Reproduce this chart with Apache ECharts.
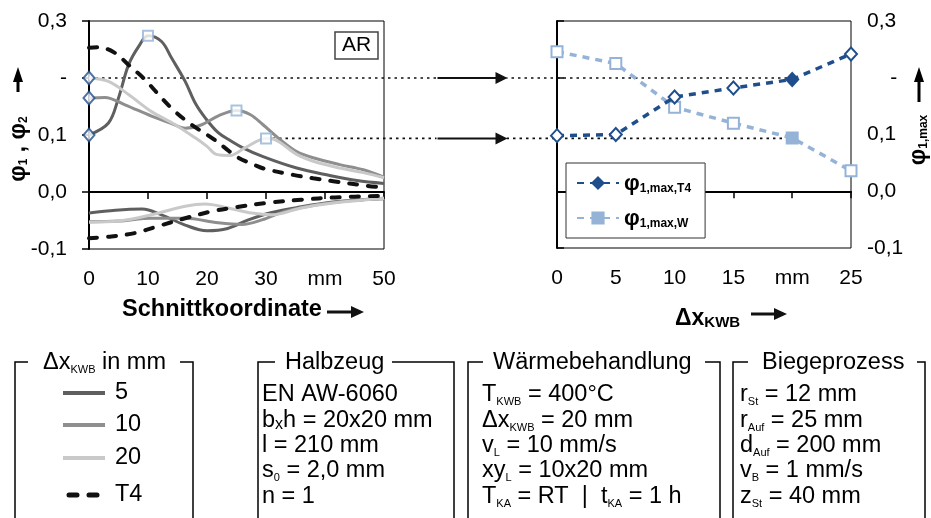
<!DOCTYPE html>
<html>
<head>
<meta charset="utf-8">
<script src="https://cdn.jsdelivr.net/npm/echarts@6/dist/echarts.min.js"></script>
<style>
  html, body { margin: 0; padding: 0; background: #fff; }
  #chart { width: 931px; height: 518px; }
</style>
</head>
<body>
<div id="chart"></div>
<script>
// ---- Verlauf der Dehnungen über der Schnittkoordinate (mm, φ) ----
const phi1_5  = [[0,0.100],[3.3,0.121],[5,0.165],[6.7,0.223],[8.4,0.255],[10,0.274],[12.3,0.264],[14,0.235],[16.3,0.194],[18,0.156],[19.7,0.130],[21.9,0.104],[24,0.090],[26,0.078],[29.5,0.062],[35.2,0.042],[40.8,0.029],[45.4,0.020],[50,0.015]];
const phi1_10 = [[0,0.165],[2.7,0.166],[6.1,0.153],[10.6,0.133],[14,0.120],[16.3,0.112],[19.1,0.118],[22,0.134],[25,0.143],[27.3,0.136],[29.5,0.118],[32.4,0.092],[35.2,0.071],[38,0.060],[42.5,0.048],[46.5,0.039],[50,0.026]];
const phi1_20 = [[0,0.200],[3.3,0.194],[6.7,0.171],[10.6,0.141],[14.6,0.118],[18,0.095],[20,0.080],[21.6,0.066],[23.9,0.064],[26.5,0.078],[30,0.094],[31.5,0.092],[35.2,0.066],[38,0.054],[42.5,0.042],[46.5,0.034],[50,0.025]];
const phi1_T4 = [[0,0.253],[1.6,0.254],[4.4,0.244],[6.7,0.223],[9.5,0.197],[12.3,0.165],[14.6,0.141],[17.4,0.118],[20.8,0.095],[23,0.078],[25,0.062],[28.4,0.046],[30,0.040],[34.6,0.030],[38,0.024],[41.4,0.019],[47,0.011],[50,0.008]];

const phi2_5  = [[0,-0.037],[4.5,-0.032],[9,-0.030],[12.3,-0.040],[16.3,-0.058],[20,-0.068],[23.5,-0.064],[27,-0.049],[31,-0.036],[36,-0.026],[41,-0.018],[46,-0.014],[50,-0.012]];
const phi2_10 = [[0,-0.052],[5,-0.051],[10.6,-0.046],[16.3,-0.046],[21.9,-0.054],[25.9,-0.057],[29.3,-0.049],[33.2,-0.034],[38.9,-0.022],[44.5,-0.015],[50,-0.011]];
const phi2_20 = [[0,-0.053],[5,-0.051],[10.6,-0.040],[16.3,-0.025],[19.7,-0.021],[23.6,-0.028],[27.6,-0.037],[31,-0.040],[36,-0.028],[41.7,-0.019],[50,-0.011]];
const phi2_T4 = [[0,-0.081],[3.8,-0.078],[7.8,-0.072],[11.7,-0.060],[16.3,-0.046],[20.8,-0.034],[24.7,-0.027],[30.4,-0.019],[36,-0.0135],[41.7,-0.0095],[50,-0.0065]];

// Lage der Maxima φ1,max,W je Kurve (Schnittkoordinate in mm)
const maxPosW = [10, 25, 30];

// ---- φ1,max über der Breite der Wärmebehandlungszone ----
const deltaX = [0, 5, 10, 15, 20, 25];
const phiMaxT4 = [0.098, 0.100, 0.166, 0.182, 0.197, 0.242];
const phiMaxW  = [0.246, 0.225, 0.148, 0.120, 0.094, 0.036];

// Achsbeschriftungen
const xTicksLeft  = {0:'0', 10:'10', 20:'20', 30:'30', 40:'mm', 50:'50'};
const xTicksRight = {0:'0', 5:'5', 10:'10', 15:'15', 20:'mm', 25:'25'};
const yTicks = {'-1':'-0,1', '0':'0,0', '1':'0,1', '2':'-', '3':'0,3'};

const FONT = '"Liberation Sans", Arial, Helvetica, sans-serif';
const DARK = '#5f5f5f', MID = '#8e8e8e', LIGHT = '#c9c9c9', BLACK = '#111';
const BLUE = '#1F4E8C', LBLUE = '#95B3D7';

const axisLineStyle = { show: true, lineStyle: { color: '#000', width: 2 } };
const axisTickStyle = { show: true, length: 7, lineStyle: { color: '#000', width: 1.5 } };
const labelBase = { color: '#000', fontSize: 21, fontFamily: FONT };

function curve(name, data, color, dashed) {
  return {
    name, type: 'line', xAxisIndex: 0, yAxisIndex: 0, data,
    smooth: 0.35, symbol: 'none', silent: true, z: dashed ? 4 : 3,
    lineStyle: dashed
      ? { color, width: 4, type: [8, 11], cap: 'round' }
      : { color, width: 3 }
  };
}

const curvesPhi1 = [phi1_5, phi1_10, phi1_20];
const startPoints = curvesPhi1.map(c => c[0]);
const maxPoints = curvesPhi1.map((c, i) => c.find(p => p[0] === maxPosW[i]));

const option = {
  animation: false,
  backgroundColor: '#fff',
  textStyle: { fontFamily: FONT },
  title: {
    text: 'AR', left: 335, top: 32, padding: [3, 7, 3, 7],
    borderColor: '#444', borderWidth: 1.5,
    textStyle: { fontSize: 21, fontWeight: 'normal', color: '#000', fontFamily: FONT }
  },
  grid: [
    { left: 89, top: 21, width: 295, height: 228, show: true, borderColor: '#000', borderWidth: 1, backgroundColor: 'transparent' },
    { left: 557, top: 21, width: 294, height: 227, show: true, borderColor: '#000', borderWidth: 1, backgroundColor: 'transparent' }
  ],
  xAxis: [
    { gridIndex: 0, type: 'value', min: 0, max: 50, interval: 10,
      axisLine: axisLineStyle, axisTick: axisTickStyle, splitLine: { show: false },
      axisLabel: Object.assign({ margin: 20, formatter: v => xTicksLeft[v] }, labelBase) },
    { gridIndex: 1, type: 'value', min: 0, max: 25, interval: 5,
      axisLine: axisLineStyle, axisTick: axisTickStyle, splitLine: { show: false },
      axisLabel: Object.assign({ margin: 20, formatter: v => xTicksRight[v] }, labelBase) }
  ],
  yAxis: [
    { gridIndex: 0, type: 'value', min: -0.1, max: 0.3, interval: 0.1,
      axisLine: axisLineStyle, axisTick: axisTickStyle, splitLine: { show: false },
      axisLabel: Object.assign({ margin: 22, formatter: v => yTicks[String(Math.round(v * 10))] }, labelBase) },
    { gridIndex: 1, type: 'value', position: 'right', min: -0.1, max: 0.3, interval: 0.1,
      axisLine: axisLineStyle, axisTick: axisTickStyle, splitLine: { show: false },
      axisLabel: Object.assign({ margin: 16, formatter: v => { const t = yTicks[String(Math.round(v * 10))]; return t === '-' ? '    -' : t; } }, labelBase) }
  ],
  legend: {
    orient: 'vertical', left: 566, top: 163,
    padding: [10, 14, 8, 10], itemGap: 13, itemWidth: 42, itemHeight: 14,
    borderColor: '#333', borderWidth: 1, backgroundColor: '#fff',
    data: [
      { name: 'phiT4', itemStyle: { color: BLUE, borderColor: BLUE } },
      { name: 'phiW', itemStyle: { color: LBLUE, borderColor: LBLUE } }
    ],
    formatter: n => n === 'phiT4' ? '{p|φ}{s|1,max,T4}' : '{p|φ}{s|1,max,W}',
    textStyle: {
      rich: {
        p: { fontSize: 22, fontWeight: 'bold', color: '#000', fontFamily: FONT, lineHeight: 24, verticalAlign: 'bottom' },
        s: { fontSize: 12, fontWeight: 'bold', color: '#000', fontFamily: FONT, lineHeight: 13, verticalAlign: 'bottom' }
      }
    }
  },
  series: [
    curve('5 (φ1)', phi1_5, DARK),
    curve('10 (φ1)', phi1_10, MID),
    curve('20 (φ1)', phi1_20, LIGHT),
    curve('T4 (φ1)', phi1_T4, BLACK, true),
    curve('5 (φ2)', phi2_5, DARK),
    curve('10 (φ2)', phi2_10, MID),
    curve('20 (φ2)', phi2_20, LIGHT),
    curve('T4 (φ2)', phi2_T4, BLACK, true),
    { name: 'Start', type: 'scatter', xAxisIndex: 0, yAxisIndex: 0, data: startPoints, z: 6,
      symbol: 'diamond', symbolSize: [11, 13], silent: true,
      itemStyle: { color: '#fff', borderColor: BLUE, borderWidth: 2 } },
    { name: 'Max', type: 'scatter', xAxisIndex: 0, yAxisIndex: 0, data: maxPoints, z: 6,
      symbol: 'rect', symbolSize: 10, silent: true,
      itemStyle: { color: '#fff', borderColor: LBLUE, borderWidth: 2 } },
    { name: 'phiW', type: 'line', xAxisIndex: 1, yAxisIndex: 1, z: 4,
      data: deltaX.map((x, i) => (x === 20
        ? { value: [x, phiMaxW[i]], itemStyle: { color: LBLUE } }
        : [x, phiMaxW[i]])),
      symbol: 'rect', symbolSize: 11, showAllSymbol: true,
      itemStyle: { color: '#fff', borderColor: LBLUE, borderWidth: 2 },
      lineStyle: { color: LBLUE, width: 3.5, type: [7, 6] } },
    { name: 'phiT4', type: 'line', xAxisIndex: 1, yAxisIndex: 1, z: 5,
      data: deltaX.map((x, i) => (x === 20
        ? { value: [x, phiMaxT4[i]], itemStyle: { color: BLUE } }
        : [x, phiMaxT4[i]])),
      symbol: 'diamond', symbolSize: [12, 13], showAllSymbol: true,
      itemStyle: { color: '#fff', borderColor: BLUE, borderWidth: 2 },
      lineStyle: { color: BLUE, width: 3.5, type: [7, 6] } }
  ]
};

const chart = echarts.init(document.getElementById('chart'), null, { renderer: 'canvas' });
chart.setOption(option);

// ---- Hilfslinien, Pfeile, Achstitel und Prozessparameter ----
const px0 = (x, y) => chart.convertToPixel({ gridIndex: 0 }, [x, y]);
const px1 = (x, y) => chart.convertToPixel({ gridIndex: 1 }, [x, y]);

function hArrow(x1, x2, y, w, len, half) {
  return [
    { type: 'line', shape: { x1, y1: y, x2: x2 - len + 1, y2: y }, style: { stroke: '#111', lineWidth: w }, z: 20 },
    { type: 'polygon', shape: { points: [[x2, y], [x2 - len, y - half], [x2 - len, y + half]] }, style: { fill: '#111' }, z: 20 }
  ];
}
function vArrow(x, yBottom, yTip, w, len, half) {
  return [
    { type: 'line', shape: { x1: x, y1: yBottom, x2: x, y2: yTip + len - 1 }, style: { stroke: '#000', lineWidth: w }, z: 20 },
    { type: 'polygon', shape: { points: [[x, yTip], [x - half, yTip + len], [x + half, yTip + len]] }, style: { fill: '#000' }, z: 20 }
  ];
}
function dotted(x1, x2, y) {
  return { type: 'line', shape: { x1, y1: y, x2, y2: y }, style: { stroke: '#111', lineWidth: 1.6, lineDash: [2.5, 4] }, z: 1, silent: true };
}

const g = [];
// Übertragung φ1 (Beginn ΔxKWB = 20) und φ1,max,W (ΔxKWB = 20)
const a = px0(startPoints[2][0], startPoints[2][1]);
const aEnd = px1(20, phiMaxT4[4]);
const b = px0(maxPoints[2][0], maxPoints[2][1]);
const bEnd = px1(20, phiMaxW[4]);
const gapMid = (px0(50, 0)[0] + px1(0, 0)[0]) / 2;
g.push(dotted(a[0], aEnd[0], a[1]));
g.push(dotted(b[0], bEnd[0], b[1]));
[a[1], b[1]].forEach(y => {
  g.push({ type: 'rect', shape: { x: gapMid - 34, y: y - 3, width: 70, height: 6 }, style: { fill: '#fff' }, z: 15 });
  hArrow(gapMid - 33, gapMid + 37, y, 2, 12, 6).forEach(e => g.push(e));
});

// Achstitel
const richName = {
  p: { fontSize: 23, fontWeight: 'bold', fontFamily: FONT, color: '#000', lineHeight: 26, verticalAlign: 'bottom' },
  s: { fontSize: 12, fontWeight: 'bold', fontFamily: FONT, color: '#000', lineHeight: 13, verticalAlign: 'bottom' }
};
const richDx = {
  p: { fontSize: 23, fontWeight: 'bold', fontFamily: FONT, color: '#000', lineHeight: 26, verticalAlign: 'bottom' },
  s: { fontSize: 15, fontWeight: 'bold', fontFamily: FONT, color: '#000', lineHeight: 15, verticalAlign: 'bottom' }
};
g.push({ type: 'text', x: 17, y: 149, rotation: Math.PI / 2, z: 20,
  style: { text: '{p|φ}{s|1}{p| , φ}{s|2}', rich: richName, align: 'center', verticalAlign: 'middle' } });
vArrow(18, 92, 67, 3, 15, 5).forEach(e => g.push(e));
g.push({ type: 'text', x: 917, y: 140, rotation: Math.PI / 2, z: 20,
  style: { text: '{p|φ}{s|1,max}', rich: richName, align: 'center', verticalAlign: 'middle' } });
vArrow(919, 102, 67, 3, 15, 5).forEach(e => g.push(e));

g.push({ type: 'text', x: 222, y: 310, z: 20,
  style: { text: 'Schnittkoordinate', font: 'bold 23.5px ' + FONT, fill: '#000', align: 'center', verticalAlign: 'middle' } });
hArrow(327, 364, 312, 3, 13, 6).forEach(e => g.push(e));
g.push({ type: 'text', x: 675, y: 317, z: 20,
  style: { text: '{p|Δx}{s|KWB}', rich: richDx, align: 'left', verticalAlign: 'middle' } });
hArrow(751, 787, 314, 3, 13, 6).forEach(e => g.push(e));

// Rahmen mit Überschrift
const frameTop = 362;
const frames = [
  { l: 15,  r: 193, s1: 28,  s2: 180, tx: 43,  title: '{n|Δx}{t|KWB}{n| in mm}' },
  { l: 258, r: 454, s1: 275, s2: 392, tx: 285, title: '{n|Halbzeug}' },
  { l: 468, r: 720, s1: 483, s2: 705, tx: 493, title: '{n|Wärmebehandlung}' },
  { l: 733, r: 925, s1: 748, s2: 917, tx: 762, title: '{n|Biegeprozess}' }
];
const richN = {
  n: { fontSize: 23.5, fontFamily: FONT, color: '#000', lineHeight: 26, verticalAlign: 'bottom' },
  t: { fontSize: 11, fontFamily: FONT, color: '#000', lineHeight: 12, verticalAlign: 'bottom' },
  s: { fontSize: 11, fontFamily: FONT, color: '#000', lineHeight: 12, verticalAlign: 'bottom' },
  x: { fontSize: 16, fontFamily: FONT, color: '#000', lineHeight: 16, verticalAlign: 'bottom' }
};
frames.forEach(f => {
  g.push({ type: 'polyline', shape: { points: [[f.l, 520], [f.l, frameTop], [f.s1, frameTop]] }, style: { stroke: '#000', lineWidth: 1.5, fill: null } });
  g.push({ type: 'polyline', shape: { points: [[f.s2, frameTop], [f.r, frameTop], [f.r, 520]] }, style: { stroke: '#000', lineWidth: 1.5, fill: null } });
  g.push({ type: 'text', x: f.tx, y: frameTop, style: { text: f.title, rich: richN, align: 'left', verticalAlign: 'middle' } });
});

const rowsY = [394, 420, 445, 470, 496];
const halbzeug = ['{n|EN AW-6060}', '{n|b}{x|x}{n|h = 20x20 mm}', '{n|l = 210 mm}', '{n|s}{s|0}{n| = 2,0 mm}', '{n|n = 1}'];
const waerme = ['{n|T}{s|KWB}{n| = 400°C}', '{n|Δx}{s|KWB}{n| = 20 mm}', '{n|v}{s|L}{n| = 10 mm/s}', '{n|xy}{s|L}{n| = 10x20 mm}', '{n|T}{s|KA}{n| = RT  |  t}{s|KA}{n| = 1 h}'];
const biege = ['{n|r}{s|St}{n| = 12 mm}', '{n|r}{s|Auf}{n| = 25 mm}', '{n|d}{s|Auf}{n| = 200 mm}', '{n|v}{s|B}{n| = 1 mm/s}', '{n|z}{s|St}{n| = 40 mm}'];
[[halbzeug, 262], [waerme, 482], [biege, 740]].forEach(([rows, x]) => {
  rows.forEach((t, i) => g.push({ type: 'text', x, y: rowsY[i], style: { text: t, rich: richN, align: 'left', verticalAlign: 'middle' } }));
});

// Linienlegende ΔxKWB
const legendRows = [
  { label: '5', color: DARK, y: 393 },
  { label: '10', color: MID, y: 425 },
  { label: '20', color: LIGHT, y: 458 },
  { label: 'T4', color: BLACK, y: 495, dashed: true }
];
legendRows.forEach(r => {
  g.push({ type: 'line', shape: { x1: r.dashed ? 69 : 63, y1: r.y, x2: r.dashed ? 99 : 105, y2: r.y },
    style: r.dashed ? { stroke: r.color, lineWidth: 5, lineDash: [8, 12], lineCap: 'round' } : { stroke: r.color, lineWidth: 4 } });
  g.push({ type: 'text', x: 115, y: r.y, style: { text: r.label, font: '23.5px ' + FONT, fill: '#000', align: 'left', verticalAlign: 'middle' } });
});

chart.setOption({ graphic: { elements: g } });
</script>
</body>
</html>
